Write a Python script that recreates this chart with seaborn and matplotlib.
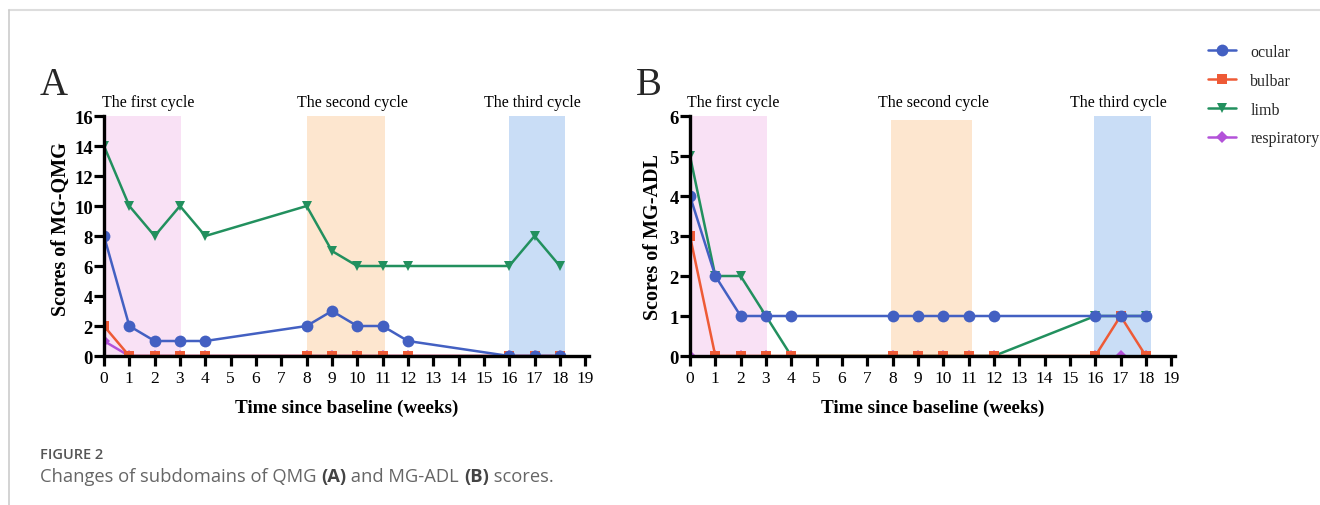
import numpy as np
import pandas as pd
import matplotlib
matplotlib.use('Agg')
import matplotlib.pyplot as plt
from matplotlib.lines import Line2D
import matplotlib.transforms as mtransforms
import seaborn as sns

# weeks at which the scores were taken
weeks = [0, 1, 2, 3, 4, 8, 9, 10, 11, 12, 16, 17, 18]

# panel A: MG-QMG subdomains
qmg_ocular = [8, 2, 1, 1, 1, 2, 3, 2, 2, 1, 0, 0, 0]
qmg_bulbar = [2, 0, 0, 0, 0, 0, 0, 0, 0, 0, 0, 0, 0]
qmg_limb = [14, 10, 8, 10, 8, 10, 7, 6, 6, 6, 6, 8, 6]
qmg_respiratory = [1, 0, 0, 0, 0, 0, 0, 0, 0, 0, 0, 0, 0]

# panel B: MG-ADL subdomains
adl_ocular = [4, 2, 1, 1, 1, 1, 1, 1, 1, 1, 1, 1, 1]
adl_bulbar = [3, 0, 0, 0, 0, 0, 0, 0, 0, 0, 0, 1, 0]
adl_limb = [5, 2, 2, 1, 0, 0, 0, 0, 0, 0, 1, 1, 1]
adl_respiratory = [0, 0, 0, 0, 0, 0, 0, 0, 0, 0, 0, 0, 0]

domains = ['ocular', 'bulbar', 'limb', 'respiratory']
cycle_labels = ['The first cycle', 'The second cycle', 'The third cycle']
x_ticks = list(range(0, 20))

colors = {'ocular': '#4360C2', 'bulbar': '#EE5A36', 'limb': '#22905E', 'respiratory': '#B352D9'}
markers = {'ocular': 'o', 'bulbar': 's', 'limb': 'v', 'respiratory': 'D'}
msizes = {'ocular': 8.5, 'bulbar': 7.5, 'limb': 7.5, 'respiratory': 6.5}
span_colors = ['#F9E1F5', '#FDE6CF', '#C9DDF6']

sns.set_theme(style='white')
plt.rcParams['font.family'] = ['Liberation Serif', 'DejaVu Serif']

W, H = 1320, 506
fig = plt.figure(figsize=(W / 100, H / 100), dpi=100)


def px_axes(left, top, right, bottom):
    return fig.add_axes([left / W, 1 - bottom / H, (right - left) / W, (bottom - top) / H])


def draw_panel(ax, series, ymax, ystep, spans, text_x, ylabel, ylabel_xy):
    for (x0, x1, top), c in zip(spans, span_colors):
        ax.axvspan(x0, x1, ymin=0, ymax=top, color=c, lw=0, zorder=0)
    # draw order: respiratory at bottom, ocular on top
    for name in ['respiratory', 'limb', 'bulbar', 'ocular']:
        df = pd.DataFrame({'week': weeks, 'score': series[name]})
        sns.lineplot(data=df, x='week', y='score', ax=ax, color=colors[name],
                     marker=markers[name], markersize=msizes[name], markeredgewidth=0,
                     linewidth=1.8, label=name, legend=False, zorder=3)
    ax.set_xlim(0, 19.15)
    ax.set_ylim(0, ymax)
    ax.set_xticks(x_ticks)
    ax.set_yticks(np.arange(0, ymax + 0.1, ystep))
    for side in ['top', 'right']:
        ax.spines[side].set_visible(False)
    for side in ['left', 'bottom']:
        ax.spines[side].set_linewidth(2.4)
        ax.spines[side].set_color('black')
        ax.spines[side].set_zorder(4)
    ax.tick_params(axis='both', direction='out', length=7, width=2.3, color='black',
                   labelcolor='black', bottom=True, left=True)
    ax.tick_params(axis='x', labelsize=12.5, pad=3)
    ax.tick_params(axis='y', labelsize=13.5, pad=1)
    for lab in ax.get_yticklabels():
        lab.set_fontweight('bold')
    ax.set_xlabel('Time since baseline (weeks)', fontsize=13.8, fontweight='bold', labelpad=9, color='black')
    ax.set_ylabel(ylabel, fontsize=14.5, fontweight='bold', color='black')
    ax.yaxis.set_label_coords(*ylabel_xy)
    trans = mtransforms.blended_transform_factory(ax.transData, ax.transAxes)
    for tx, lab in zip(text_x, cycle_labels):
        ax.text(tx, 1.025, lab, transform=trans, ha='center', va='bottom', fontsize=11.5, color='black')


ax_a = px_axes(104, 117, 589, 357)
draw_panel(ax_a, {'ocular': qmg_ocular, 'bulbar': qmg_bulbar, 'limb': qmg_limb,
                  'respiratory': qmg_respiratory},
           16, 2, [(0, 3.05, 1.0), (8, 11.1, 1.0), (16, 18.2, 1.0)],
           [1.75, 9.8, 16.9], 'Scores of MG-QMG', (-0.068, 0.535))

ax_b = px_axes(690, 117, 1175, 357)
draw_panel(ax_b, {'ocular': adl_ocular, 'bulbar': adl_bulbar, 'limb': adl_limb,
                  'respiratory': adl_respiratory},
           6, 1, [(0, 3.03, 1.0), (7.95, 11.12, 0.985), (15.95, 18.2, 1.0)],
           [1.7, 9.6, 16.9], 'Scores of MG-ADL', (-0.056, 0.5))

fig.text(40 / W, 1 - 95 / H, 'A', fontsize=28, va='baseline', ha='left')
fig.text(636 / W, 1 - 95 / H, 'B', fontsize=28, va='baseline', ha='left')

# legend
handles = [Line2D([], [], color=colors[d], marker=markers[d], markersize=msizes[d],
                  markeredgewidth=0, linewidth=1.8) for d in domains]
fig.legend(handles, domains, loc='upper left', bbox_to_anchor=(1208 / W, 1 - 45 / H),
           frameon=False, fontsize=11.5, labelspacing=0.8, handlelength=1.75,
           handletextpad=0.9, borderaxespad=0, borderpad=0)

# page frame lines
fig.add_artist(Line2D([9 / W, 1], [1 - 11 / H, 1 - 11 / H], color='#DDDDDD', lw=1.5))
fig.add_artist(Line2D([9 / W, 9 / W], [0, 1 - 11 / H], color='#CCCCCC', lw=1.2))

# caption
cap_font = ['Open Sans', 'DejaVu Sans']
fig.text(40 / W, 1 - 455 / H, 'FIGURE 2', fontsize=10.5, color='#555555', family=cap_font,
         fontweight='semibold', va='center', ha='left')
pieces = [('Changes of subdomains of QMG ', 'normal'), ('(A)', 'bold'), (' and MG-ADL ', 'normal'),
          ('(B)', 'bold'), (' scores.', 'normal')]
renderer = fig.canvas.get_renderer()
x_px = 40
for txt, wt in pieces:
    t = fig.text(x_px / W, 1 - 477 / H, txt, fontsize=13.2, color='#666666' if wt == 'normal' else '#444444',
                 family=cap_font, fontweight=wt, va='center', ha='left')
    bb = t.get_window_extent(renderer=renderer)
    x_px += bb.width

fig.savefig('out.png', dpi=100)
